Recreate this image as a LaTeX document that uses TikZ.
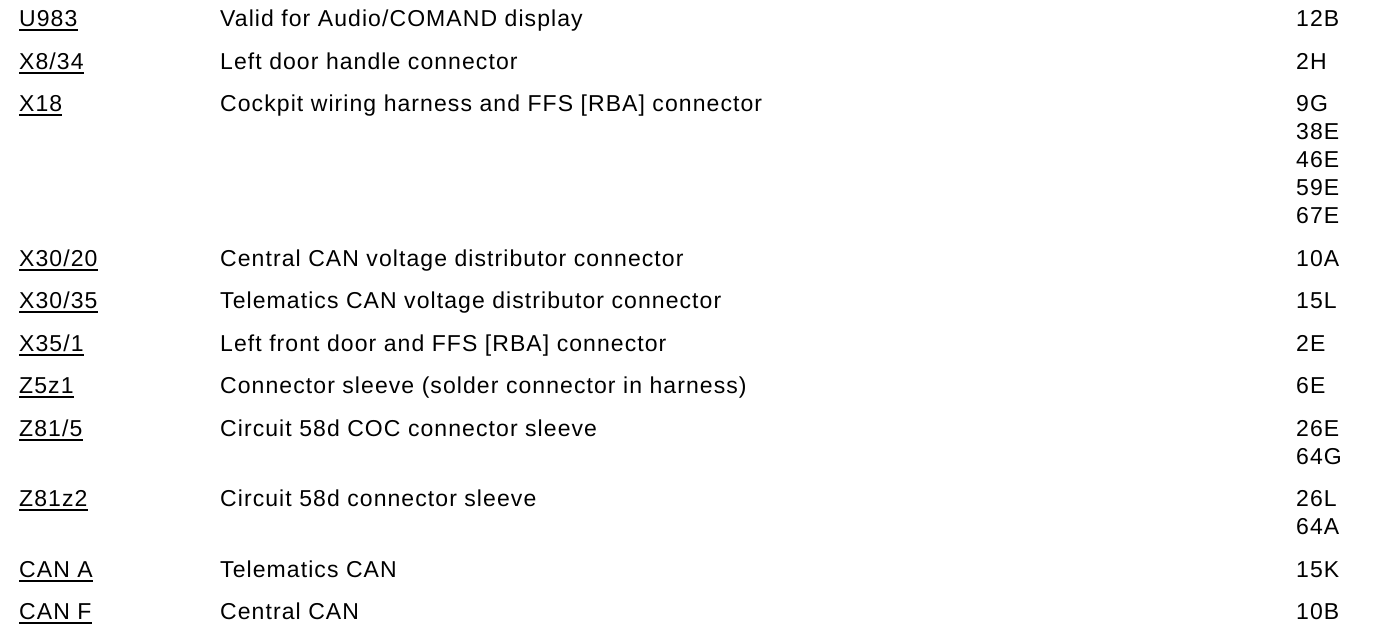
\documentclass[tikz,border=0pt]{standalone}
\usepackage{fontspec}
\setmainfont{Liberation Sans}[LetterSpace=4.7]
\begin{document}
\begin{tikzpicture}[x=1pt,y=-1pt,
  txt/.style={anchor=base west,inner sep=0pt,font=\fontsize{23}{26}\selectfont},
  ul/.style={line width=1.8pt}]
\useasboundingbox (0,0) rectangle (1392,640);
\newcommand\entry[5]{%
  \node[txt] (#1a) at (19,#2) {#3};
  \draw[ul] ([yshift=-4pt]#1a.base west) -- ([yshift=-4pt]#1a.base east);
  \node[txt] (#1b) at (220,#2) {#4};
  \node[txt] (#1c) at (1296,#2) {#5};}
\entry{r1}{26}{U983}{Valid for Audio/COMAND display}{12B}
\entry{r2}{69}{X8/34}{Left door handle connector}{2H}
\entry{r3}{111}{X18}{Cockpit wiring harness and FFS [RBA] connector}{9G}
\node[txt] (r3d) at (1296,139) {38E};
\node[txt] (r3e) at (1296,167) {46E};
\node[txt] (r3f) at (1296,195) {59E};
\node[txt] (r3g) at (1296,223) {67E};
\entry{r4}{266}{X30/20}{Central CAN voltage distributor connector}{10A}
\entry{r5}{308}{X30/35}{Telematics CAN voltage distributor connector}{15L}
\entry{r6}{351}{X35/1}{Left front door and FFS [RBA] connector}{2E}
\entry{r7}{393}{Z5z1}{Connector sleeve (solder connector in harness)}{6E}
\entry{r8}{436}{Z81/5}{Circuit 58d COC connector sleeve}{26E}
\node[txt] (r8d) at (1296,464) {64G};
\entry{r9}{506}{Z81z2}{Circuit 58d connector sleeve}{26L}
\node[txt] (r9d) at (1296,534) {64A};
\entry{r10}{577}{CAN A}{Telematics CAN}{15K}
\entry{r11}{619}{CAN F}{Central CAN}{10B}
\end{tikzpicture}
\end{document}
